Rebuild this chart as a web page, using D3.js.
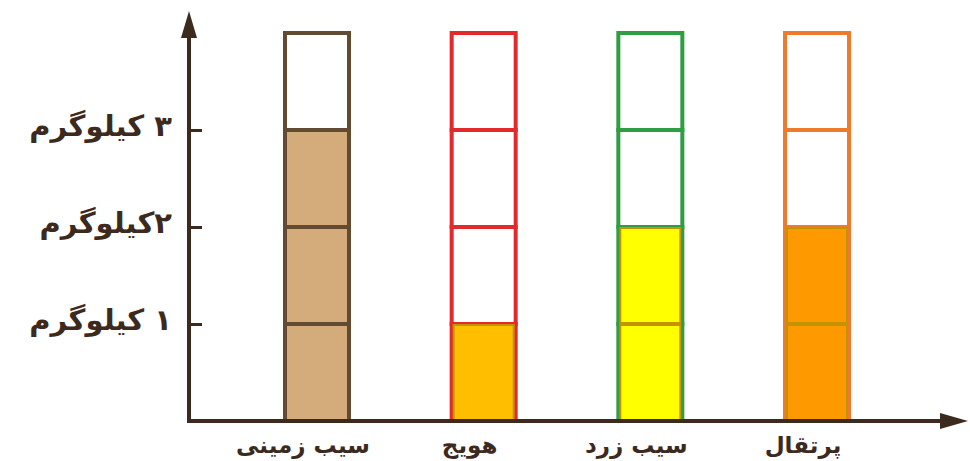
<!DOCTYPE html>
<html lang="fa">
  <head>
    <meta charset="utf-8" />
    <title>نمودار میوه‌ها</title>
    <script src="https://d3js.org/d3.v7.min.js"></script>
    <style>
      body { margin: 0; background: #fff; }
      text { font-family: "DejaVu Sans", sans-serif; font-weight: bold; fill: #3b2a1d; }
    </style>
  </head>
  <body>
    <svg id="chart" width="970" height="461"></svg>
    <script>
      const categories = ["سیب زمینی", "هویج", "سیب زرد", "پرتقال"];
      const values = [3, 1, 2, 2];
      const capacity = 4;
      const outlineColors = ["#634a33", "#e3292b", "#2f9d41", "#ee7a2b"];
      const fillColors = ["#d4ac7c", "#ffbf00", "#ffff00", "#ff9900"];
      const tickValues = [1, 2, 3];
      const tickLabels = ["۱ کیلوگرم", "۲کیلوگرم", "۳ کیلوگرم"];

      const svg = d3.select("#chart");
      const axisColor = "#3b2a1d";

      const y = d3.scaleLinear().domain([0, capacity]).range([421, 33]);
      const x = d3.scalePoint().domain(categories).range([317, 817]);
      const barW = 64;

      // columns
      categories.forEach(function (c, i) {
        const g = svg.append("g");
        const cells = d3.range(capacity);
        g.selectAll("rect.cell")
          .data(cells)
          .enter()
          .append("rect")
          .attr("class", "cell")
          .attr("x", x(c) - barW / 2)
          .attr("y", d => y(d + 1))
          .attr("width", barW)
          .attr("height", y(0) - y(1))
          .attr("fill", d => (d < values[i] ? fillColors[i] : "#fff"))
          .attr("stroke", outlineColors[i])
          .attr("stroke-width", 4);

        // gold-edged fill blocks for the fruit columns
        if (i > 0) {
          g.selectAll("rect.fill")
            .data(d3.range(values[i]))
            .enter()
            .append("rect")
            .attr("class", "fill")
            .attr("x", x(c) - barW / 2 + 2)
            .attr("y", d => y(d + 1) + 1)
            .attr("width", barW - 4)
            .attr("height", y(0) - y(1) - 2)
            .attr("fill", fillColors[i])
            .attr("stroke", "#c49400")
            .attr("stroke-width", 2);
        }
      });

      // y axis with ticks pointing right
      const yAxis = d3.axisLeft(y)
        .tickValues(tickValues)
        .tickSizeInner(-13)
        .tickSizeOuter(0)
        .tickPadding(17)
        .tickFormat((d, i) => tickLabels[i]);

      const ya = svg.append("g").attr("transform", "translate(189,0)").call(yAxis);
      ya.select(".domain").remove();
      ya.selectAll(".tick line").attr("stroke", axisColor).attr("stroke-width", 3);
      ya.selectAll(".tick text")
        .style("font-size", "29px")
        .style("font-family", "DejaVu Sans")
        .style("font-weight", "bold")
        .attr("fill", axisColor)
        .attr("dy", "0.2em")
        .attr("direction", "rtl")
        .attr("text-anchor", "start");

      // axis lines with arrow heads
      svg.append("line")
        .attr("x1", 189).attr("y1", y(0) + 1)
        .attr("x2", 189).attr("y2", 26)
        .attr("stroke", axisColor).attr("stroke-width", 4);
      svg.append("path")
        .attr("d", "M189,11 L181,38 L197,38 Z")
        .attr("fill", axisColor);

      svg.append("line")
        .attr("x1", 187).attr("y1", y(0))
        .attr("x2", 945).attr("y2", y(0))
        .attr("stroke", axisColor).attr("stroke-width", 4);
      svg.append("path")
        .attr("d", "M968,421 L940,413 L940,429 Z")
        .attr("fill", axisColor);

      // category labels
      svg.selectAll("text.cat")
        .data(categories)
        .enter()
        .append("text")
        .attr("class", "cat")
        .attr("x", d => x(d) - 14)
        .attr("y", 453)
        .attr("text-anchor", "middle")
        .attr("direction", "rtl")
        .style("font-size", "23px")
        .text(d => d);
    </script>
  </body>
</html>
